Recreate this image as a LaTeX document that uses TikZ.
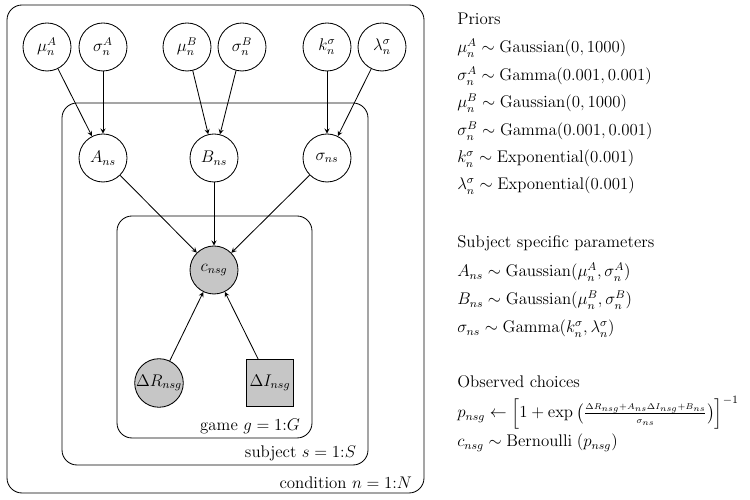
\documentclass[tikz,border=0pt,12pt]{standalone}
\usepackage{amsmath}
\usetikzlibrary{arrows}
\tikzset{
    latent/.style={circle,draw,semithick,minimum size=1.2cm,inner sep=0pt},
    observed/.style={latent,fill=gray!45},
    obsbox/.style={rectangle,draw,semithick,fill=gray!45,minimum size=1.175cm,inner sep=0pt},
    plate/.style={semithick,rounded corners=0.375cm},
    edge/.style={->,>=stealth,semithick},
    eqn/.style={anchor=base west,inner sep=0pt}
}
\begin{document}
\begin{tikzpicture}
    \useasboundingbox (0,0) rectangle (18.75,12.5);
    % plates
    \draw[plate] (0.175,12.375) rectangle (10.6,0.175) node[above left,xshift=-0.15cm,yshift=-0.05cm] {condition $n=1{:}N$};
    \draw[plate] (1.55,9.925) rectangle (9.2,0.875) node[above left,xshift=-0.15cm,yshift=-0.05cm] {subject $s=1{:}S$};
    \draw[plate] (2.925,7.1) rectangle (7.8,1.55) node[above left,xshift=-0.15cm,yshift=-0.05cm] {game $g=1{:}G$};

    % hyperparameters
    \node[latent] (muA) at (1.175,11.325) {$\mu_n^A$};
    \node[latent] (sigA) at (2.575,11.325) {$\sigma_n^A$};
    \node[latent] (muB) at (4.675,11.325) {$\mu_n^B$};
    \node[latent] (sigB) at (6.05,11.325) {$\sigma_n^B$};
    \node[latent] (ksig) at (8.175,11.325) {$k_n^\sigma$};
    \node[latent] (lsig) at (9.55,11.325) {$\lambda_n^\sigma$};

    % subject level
    \node[latent] (A) at (2.575,8.55) {$A_{ns}$};
    \node[latent] (B) at (5.35,8.55) {$B_{ns}$};
    \node[latent] (S) at (8.175,8.55) {$\sigma_{ns}$};

    % game level
    \node[observed] (c) at (5.35,5.75) {$c_{nsg}$};
    \node[observed] (dR) at (3.975,2.925) {$\Delta R_{nsg}$};
    \node[obsbox] (dI) at (6.75,2.925) {$\Delta I_{nsg}$};

    \draw[edge] (muA) -- (A);
    \draw[edge] (sigA) -- (A);
    \draw[edge] (muB) -- (B);
    \draw[edge] (sigB) -- (B);
    \draw[edge] (ksig) -- (S);
    \draw[edge] (lsig) -- (S);
    \draw[edge] (A) -- (c);
    \draw[edge] (B) -- (c);
    \draw[edge] (S) -- (c);
    \draw[edge] (dR) -- (c);
    \draw[edge] (dI) -- (c);

    % model equations
    \node[eqn] (pri) at (11.425,11.875) {Priors};
    \node[eqn] (pri1) at (11.425,11.175) {$\mu_n^A \sim \mathrm{Gaussian}(0,1000)$};
    \node[eqn] (pri2) at (11.425,10.475) {$\sigma_n^A \sim \mathrm{Gamma}(0.001,0.001)$};
    \node[eqn] (pri3) at (11.425,9.8) {$\mu_n^B \sim \mathrm{Gaussian}(0,1000)$};
    \node[eqn] (pri4) at (11.425,9.1) {$\sigma_n^B \sim \mathrm{Gamma}(0.001,0.001)$};
    \node[eqn] (pri5) at (11.425,8.425) {$k_n^\sigma \sim \mathrm{Exponential}(0.001)$};
    \node[eqn] (pri6) at (11.425,7.75) {$\lambda_n^\sigma \sim \mathrm{Exponential}(0.001)$};

    \node[eqn] (sub) at (11.425,6.3) {Subject specific parameters};
    \node[eqn] (sub1) at (11.425,5.575) {$A_{ns} \sim \mathrm{Gaussian}(\mu_n^A,\sigma_n^A)$};
    \node[eqn] (sub2) at (11.425,4.875) {$B_{ns} \sim \mathrm{Gaussian}(\mu_n^B,\sigma_n^B)$};
    \node[eqn] (sub3) at (11.425,4.175) {$\sigma_{ns} \sim \mathrm{Gamma}(k_n^\sigma,\lambda_n^\sigma)$};

    \node[eqn] (obs) at (11.425,2.8) {Observed choices};
    \node[eqn] (obs1) at (11.425,2.05) {$p_{nsg} \leftarrow \Big[1+\exp\big(\tfrac{\scriptscriptstyle\Delta R_{nsg}+A_{ns}\Delta I_{nsg}+B_{ns}}{\scriptscriptstyle\sigma_{ns}}\big)\Big]^{-1}$};
    \node[eqn] (obs2) at (11.425,1.325) {$c_{nsg} \sim \mathrm{Bernoulli}\;(p_{nsg})$};
\end{tikzpicture}
\end{document}
